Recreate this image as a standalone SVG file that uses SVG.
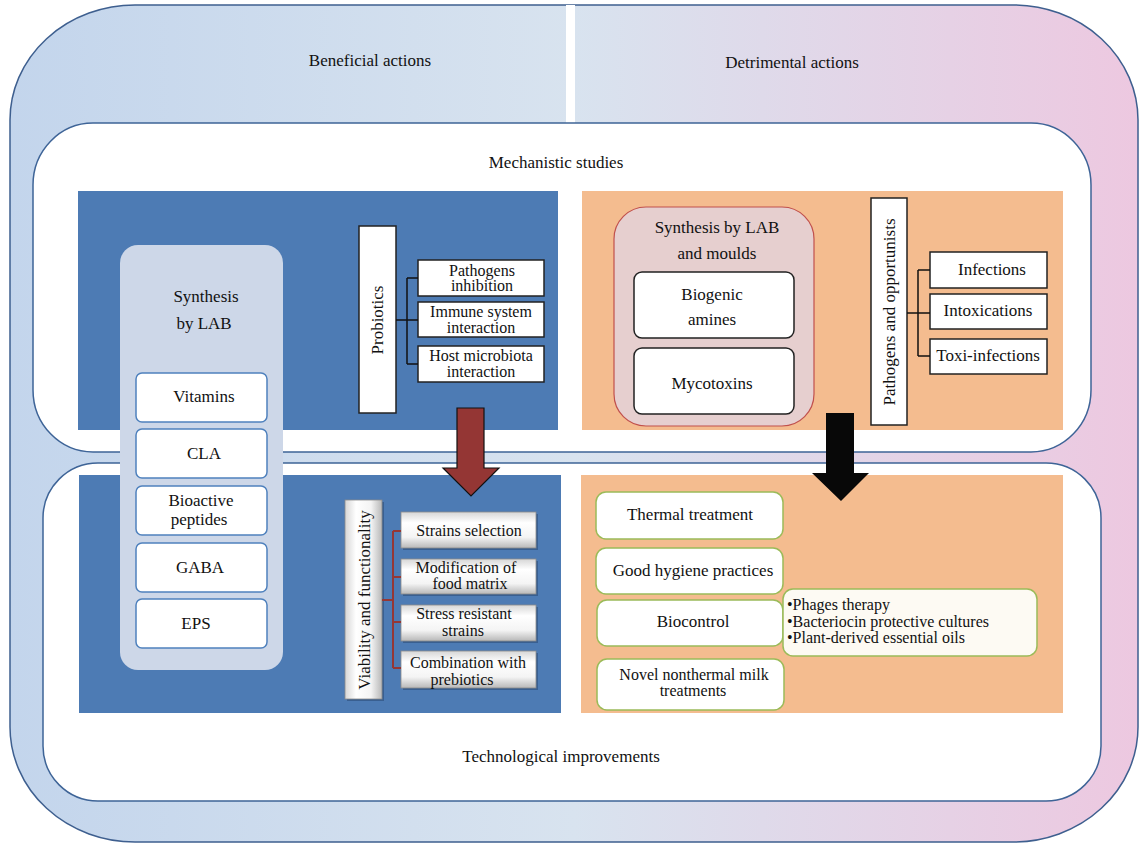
<svg xmlns="http://www.w3.org/2000/svg" width="1140" height="843" viewBox="0 0 1140 843">
<defs>
<linearGradient id="bg" x1="0" y1="0" x2="1" y2="0">
<stop offset="0" stop-color="#c3d5ec"/>
<stop offset="0.5" stop-color="#d8e3ef"/>
<stop offset="1" stop-color="#edc8e0"/>
</linearGradient>
<linearGradient id="bev" x1="0" y1="0" x2="0" y2="1">
<stop offset="0" stop-color="#d6d6d6"/>
<stop offset="0.3" stop-color="#ffffff"/>
<stop offset="0.7" stop-color="#f4f4f4"/>
<stop offset="1" stop-color="#b8b8b8"/>
</linearGradient>
<linearGradient id="bevh" x1="0" y1="0" x2="1" y2="0">
<stop offset="0" stop-color="#d6d6d6"/>
<stop offset="0.3" stop-color="#ffffff"/>
<stop offset="0.7" stop-color="#f4f4f4"/>
<stop offset="1" stop-color="#b8b8b8"/>
</linearGradient>
</defs>
<style>
text{font-family:"Liberation Serif","DejaVu Serif",serif;fill:#111;}
.h{font-size:17px;text-anchor:middle;}
.t{font-size:17px;text-anchor:middle;}
.s{font-size:16px;text-anchor:middle;}
.bx{fill:#fff;stroke:#222;stroke-width:1.5;}
.lab{fill:#fff;stroke:#4f81bd;stroke-width:1.5;}
.grn{fill:#fff;stroke:#9bbb59;stroke-width:1.5;}
.bev{fill:url(#bev);stroke:#8a8a8a;stroke-width:0.8;}
.shd{fill:#2d4d78;opacity:0.6;}
.blk{fill:none;stroke:#111;stroke-width:1.5;}
.red{fill:none;stroke:#953735;stroke-width:2;}
</style>
<g id="background">
<path d="M135 5 H1013 A125 115 0 0 1 1138 120 V727 A125 115 0 0 1 1013 842 H135 A125 115 0 0 1 10 727 V120 A125 115 0 0 1 135 5 Z" fill="url(#bg)" stroke="#3e5f8f" stroke-width="1.5"/>
<rect x="566" y="5" width="9" height="118" fill="#fff"/>
<text class="h" x="370" y="66">Beneficial actions</text>
<text class="h" x="792" y="68">Detrimental actions</text>
</g>
<g id="mechanistic">
<rect x="33" y="123" width="1058" height="329" rx="60" ry="62" fill="#fff" stroke="#3e6497" stroke-width="1.5"/>
<text class="h" x="556" y="168">Mechanistic studies</text>
<rect x="78" y="191" width="480" height="239" fill="#4d7bb4"/>
<rect x="582" y="191" width="481" height="239" fill="#f4bc8f"/>
</g>
<g id="technological">
<rect x="43" y="463" width="1058" height="338" rx="55" ry="55" fill="#fff" stroke="#3e6497" stroke-width="1.5"/>
<rect x="79" y="475" width="482" height="238" fill="#4d7bb4"/>
<rect x="581" y="475" width="482" height="238" fill="#f4bc8f"/>
<text class="h" x="561" y="762">Technological improvements</text>
</g>
<g id="synthesis-lab">
<rect x="120" y="245" width="163" height="425" rx="18" fill="#cdd7e8"/>
<text class="t" x="206" y="302">Synthesis</text>
<text class="t" x="204" y="329">by LAB</text>
</g>
<g id="vitamins"><rect class="lab" x="136" y="373" width="131" height="49" rx="6"/><text class="t" x="204" y="402">Vitamins</text></g>
<g id="cla"><rect class="lab" x="136" y="429" width="131" height="49" rx="6"/><text class="t" x="204" y="459">CLA</text></g>
<g id="bioactive"><rect class="lab" x="136" y="486" width="131" height="49" rx="6"/><text class="t" x="201" y="506">Bioactive</text><text class="t" x="199" y="525">peptides</text></g>
<g id="gaba"><rect class="lab" x="136" y="543" width="131" height="49" rx="6"/><text class="t" x="200" y="573">GABA</text></g>
<g id="eps"><rect class="lab" x="136" y="599" width="131" height="49" rx="6"/><text class="t" x="196" y="629">EPS</text></g>

<g id="probiotics"><rect class="bx" x="359" y="226" width="37" height="187"/><text class="t" transform="translate(383 320) rotate(-90)">Probiotics</text></g>
<g id="pathogens-inhibition"><rect class="bx" x="418" y="260" width="126" height="36"/><text class="s" x="482" y="276">Pathogens</text><text class="s" x="482" y="291">inhibition</text></g>
<g id="immune"><rect class="bx" x="418" y="302" width="126" height="35"/><text class="s" x="481" y="317">Immune system</text><text class="s" x="481" y="333">interaction</text></g>
<g id="host"><rect class="bx" x="418" y="346" width="126" height="36"/><text class="s" x="481" y="361">Host microbiota</text><text class="s" x="481" y="377">interaction</text></g>

<g id="synthesis-moulds">
<rect x="614" y="207" width="200" height="219" rx="32" fill="#e6cfcf" stroke="#c0504d" stroke-width="1.2"/>
<text class="t" x="717" y="233">Synthesis by LAB</text>
<text class="t" x="717" y="259">and moulds</text>
</g>
<g id="biogenic"><rect class="bx" x="634" y="272" width="160" height="66" rx="8"/><text class="t" x="712" y="300">Biogenic</text><text class="t" x="712" y="325">amines</text></g>
<g id="mycotoxins"><rect class="bx" x="634" y="348" width="160" height="66" rx="8"/><text class="t" x="712" y="389">Mycotoxins</text></g>

<g id="pathogens-opp"><rect class="bx" x="871" y="198" width="36" height="227"/><text class="t" transform="translate(895 312) rotate(-90)">Pathogens and opportunists</text></g>
<g id="infections"><rect class="bx" x="930" y="252" width="117" height="36"/><text class="t" x="992" y="275">Infections</text></g>
<g id="intoxications"><rect class="bx" x="930" y="294" width="117" height="35"/><text class="t" x="988" y="316">Intoxications</text></g>
<g id="toxi"><rect class="bx" x="930" y="339" width="117" height="35"/><text class="t" x="988" y="361">Toxi-infections</text></g>

<g id="viability">
<rect class="shd" x="347" y="502" width="37" height="199"/>
<rect x="345" y="500" width="37" height="199" fill="url(#bevh)" stroke="#8a8a8a" stroke-width="0.8"/>
<text class="t" transform="translate(370 600) rotate(-90)">Viability and functionality</text>
</g>
<g id="strains-selection"><rect class="shd" x="403" y="514" width="135" height="36"/><rect class="bev" x="401" y="512" width="135" height="36"/><text class="s" x="469" y="536">Strains  selection</text></g>
<g id="modification"><rect class="shd" x="403" y="561" width="135" height="35"/><rect class="bev" x="401" y="559" width="135" height="35"/><text class="s" x="466" y="573">Modification of</text><text class="s" x="470" y="589">food matrix</text></g>
<g id="stress"><rect class="shd" x="403" y="607" width="135" height="36"/><rect class="bev" x="401" y="605" width="135" height="36"/><text class="s" x="464" y="619">Stress resistant</text><text class="s" x="463" y="636">strains</text></g>
<g id="combination"><rect class="shd" x="403" y="653" width="135" height="37"/><rect class="bev" x="401" y="651" width="135" height="37"/><text class="s" x="468" y="668">Combination with</text><text class="s" x="462" y="685">prebiotics</text></g>

<g id="thermal"><rect class="grn" x="596" y="492" width="187" height="47" rx="10"/><text class="t" x="690" y="520">Thermal treatment</text></g>
<g id="hygiene"><rect class="grn" x="596" y="548" width="187" height="46" rx="10"/><text class="t" x="693" y="576">Good hygiene practices</text></g>
<g id="biocontrol"><rect class="grn" x="597" y="600" width="186" height="46" rx="10"/><text class="t" x="693" y="627">Biocontrol</text></g>
<g id="bullets">
<rect x="783" y="589" width="254" height="67" rx="10" fill="#fdfaf3" stroke="#9bbb59" stroke-width="1.5"/>
<text x="787" y="610" style="font-size:16px">•Phages therapy</text>
<text x="787" y="627" style="font-size:16px">•Bacteriocin protective cultures</text>
<text x="787" y="643" style="font-size:16px">•Plant-derived essential oils</text>
</g>
<g id="novel"><rect class="grn" x="597" y="659" width="187" height="51" rx="10"/><text class="s" x="694" y="680">Novel nonthermal milk</text><text class="s" x="693" y="696">treatments</text></g>

<g id="connectors">
<path class="blk" d="M396 320 H407 M407 278 V364 M407 278 H418 M407 320 H418 M407 364 H418"/>
<path class="blk" d="M907 313 H918 M918 270 V356 M918 270 H930 M918 313 H930 M918 356 H930"/>
<path class="red" d="M382 600 H393 M393 531 V668 M393 531 H401 M393 577 H401 M393 622 H401 M393 668 H401"/>
<path d="M457 408 H484 V468 H499 L471 496 L443 468 H457 Z" fill="#943634" stroke="#111" stroke-width="1.2"/>
<path d="M826 413 H854 V473 H869 L841 501 L812 473 H826 Z" fill="#080808"/>
</g>
</svg>
